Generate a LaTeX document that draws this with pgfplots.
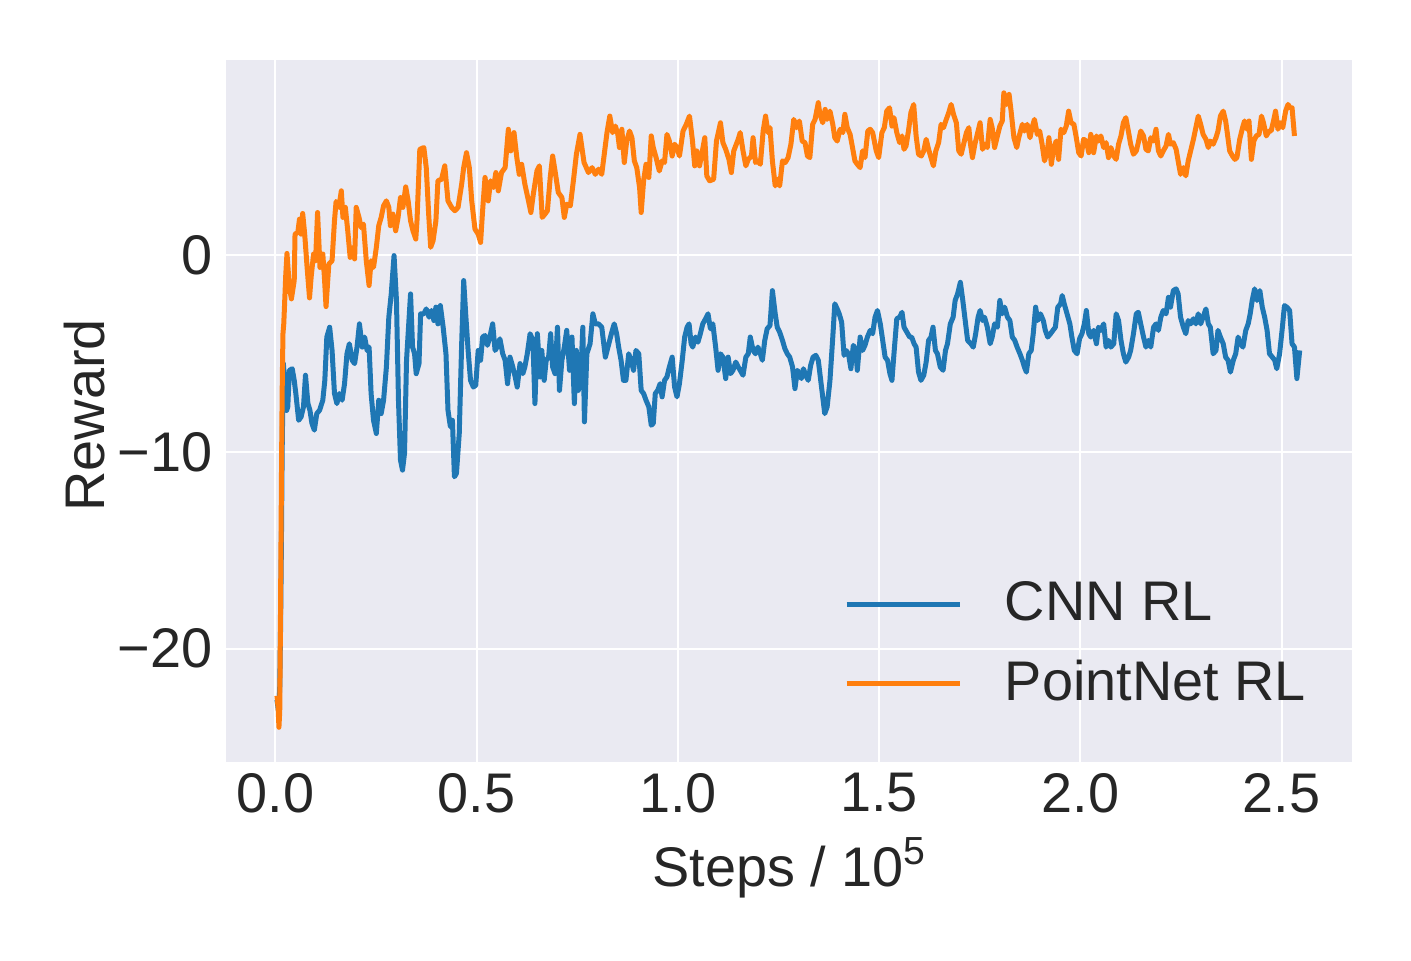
\documentclass[border=0pt]{standalone}
\usepackage{fontspec}
\setmainfont{Liberation Sans}
\usepackage{pgfplots}
\usepackage{pgfplotstable}
\pgfplotsset{compat=1.18}
\definecolor{bg}{HTML}{EAEAF2}
\definecolor{tabblue}{HTML}{1F77B4}
\definecolor{taborange}{HTML}{FF7F0E}
\definecolor{txt}{HTML}{262626}
\newcommand{\fsz}{\fontsize{13.4}{16}\selectfont}

\pgfplotstableread{
x y
0.004 -22.6
0.008 -23.2
0.011 -22.0
0.013 -19.0
0.015 -15.0
0.017 -10.0
0.019 -7.0
0.020 -5.52
0.024 -6.6
0.028 -7.9
0.031 -7.72
0.035 -5.86
0.042 -5.78
0.047 -6.37
0.051 -7.04
0.058 -8.40
0.064 -8.23
0.070 -7.72
0.075 -6.11
0.081 -7.55
0.086 -7.89
0.091 -8.56
0.097 -8.90
0.103 -8.06
0.110 -7.89
0.118 -7.38
0.123 -6.37
0.128 -4.17
0.135 -3.67
0.141 -4.85
0.147 -7.04
0.153 -7.55
0.159 -7.04
0.166 -7.38
0.172 -6.54
0.178 -5.02
0.184 -4.51
0.191 -5.35
0.197 -5.52
0.203 -4.68
0.209 -3.50
0.216 -4.68
0.222 -4.17
0.228 -4.85
0.233 -4.68
0.238 -7.04
0.244 -8.40
0.251 -9.07
0.257 -7.38
0.263 -8.06
0.269 -7.38
0.276 -5.69
0.282 -3.16
0.288 -1.98
0.295 -0.03
0.301 -2.31
0.306 -7.38
0.311 -10.42
0.316 -10.93
0.321 -10.08
0.326 -5.35
0.330 -4.00
0.336 -1.98
0.341 -4.68
0.346 -5.02
0.350 -6.03
0.357 -5.52
0.361 -2.99
0.369 -2.99
0.375 -2.74
0.382 -3.16
0.388 -2.82
0.394 -3.33
0.399 -2.65
0.404 -3.50
0.410 -2.57
0.417 -3.67
0.424 -5.02
0.429 -7.89
0.435 -8.73
0.440 -8.40
0.445 -11.27
0.450 -11.10
0.457 -9.07
0.463 -4.51
0.468 -1.30
0.473 -2.99
0.479 -4.85
0.485 -6.37
0.492 -6.71
0.498 -6.62
0.504 -4.85
0.510 -5.35
0.515 -4.17
0.521 -4.09
0.527 -4.59
0.533 -4.17
0.540 -3.50
0.546 -4.85
0.551 -4.68
0.558 -4.26
0.565 -5.02
0.571 -5.35
0.577 -6.54
0.583 -5.19
0.590 -5.69
0.596 -6.20
0.601 -6.71
0.608 -5.52
0.615 -6.03
0.620 -5.69
0.626 -5.02
0.633 -4.00
0.640 -4.34
0.645 -7.55
0.651 -4.00
0.658 -6.20
0.662 -4.85
0.668 -6.37
0.673 -5.35
0.679 -5.19
0.684 -4.00
0.689 -5.69
0.695 -6.03
0.701 -3.67
0.706 -6.88
0.712 -5.35
0.718 -4.68
0.724 -3.83
0.731 -5.86
0.737 -4.17
0.743 -7.55
0.748 -4.85
0.753 -6.88
0.759 -6.03
0.764 -3.67
0.768 -8.48
0.774 -5.02
0.782 -4.51
0.789 -2.99
0.795 -3.50
0.803 -3.50
0.811 -3.67
0.820 -5.19
0.836 -3.92
0.842 -3.50
0.848 -4.00
0.853 -4.68
0.859 -5.35
0.865 -6.37
0.871 -6.37
0.878 -5.02
0.884 -5.35
0.890 -5.86
0.896 -4.85
0.903 -5.02
0.909 -6.88
0.915 -7.04
0.921 -7.38
0.928 -7.72
0.934 -8.65
0.939 -8.56
0.944 -7.04
0.950 -6.88
0.956 -6.54
0.961 -7.21
0.967 -6.37
0.973 -6.20
0.979 -5.69
0.986 -5.19
0.992 -6.71
0.998 -7.21
1.004 -6.54
1.011 -5.35
1.017 -4.17
1.023 -3.67
1.028 -3.50
1.033 -4.51
1.037 -4.68
1.044 -4.17
1.050 -4.43
1.056 -4.00
1.062 -3.50
1.069 -3.24
1.075 -2.99
1.081 -3.75
1.087 -3.50
1.094 -4.68
1.100 -5.86
1.106 -5.02
1.112 -5.19
1.119 -6.28
1.125 -5.19
1.131 -6.03
1.137 -5.86
1.144 -5.44
1.150 -5.69
1.155 -5.86
1.162 -6.11
1.169 -5.19
1.175 -5.02
1.180 -4.17
1.187 -4.85
1.193 -5.02
1.199 -4.68
1.205 -5.02
1.210 -5.35
1.216 -4.34
1.222 -3.75
1.229 -3.58
1.235 -1.81
1.242 -2.99
1.247 -3.67
1.253 -3.92
1.260 -4.34
1.266 -4.76
1.272 -5.02
1.278 -5.19
1.285 -5.69
1.291 -6.79
1.297 -5.86
1.302 -6.03
1.307 -6.28
1.312 -5.78
1.318 -6.11
1.324 -6.37
1.330 -5.61
1.336 -5.19
1.343 -5.10
1.349 -5.35
1.355 -6.37
1.361 -7.38
1.365 -8.06
1.371 -7.72
1.378 -6.37
1.385 -4.17
1.390 -2.48
1.396 -2.74
1.401 -2.99
1.407 -3.41
1.413 -5.10
1.418 -4.85
1.424 -5.02
1.430 -5.78
1.436 -4.59
1.442 -4.85
1.446 -5.86
1.453 -4.17
1.459 -4.85
1.465 -4.59
1.471 -4.17
1.478 -3.83
1.484 -4.00
1.490 -3.16
1.496 -2.82
1.503 -3.50
1.509 -4.34
1.515 -5.19
1.521 -5.35
1.527 -6.03
1.532 -6.37
1.537 -5.02
1.544 -3.24
1.551 -3.16
1.557 -2.91
1.562 -3.67
1.569 -3.92
1.576 -4.17
1.581 -4.17
1.587 -4.51
1.592 -4.68
1.598 -5.95
1.604 -6.37
1.611 -6.11
1.617 -5.44
1.623 -4.34
1.629 -4.17
1.634 -3.67
1.640 -4.85
1.645 -5.02
1.652 -5.69
1.659 -5.86
1.665 -4.85
1.670 -4.51
1.677 -3.50
1.684 -3.16
1.689 -2.31
1.695 -1.98
1.702 -1.39
1.708 -2.31
1.714 -3.33
1.720 -4.34
1.728 -4.51
1.734 -4.68
1.740 -4.00
1.746 -3.16
1.751 -2.82
1.757 -3.33
1.762 -3.16
1.769 -3.67
1.776 -4.51
1.781 -4.17
1.787 -3.50
1.794 -3.67
1.800 -2.31
1.806 -2.99
1.812 -2.65
1.819 -3.16
1.825 -3.33
1.831 -4.17
1.837 -4.34
1.843 -4.68
1.850 -5.02
1.856 -5.35
1.861 -5.69
1.866 -5.95
1.872 -5.02
1.878 -4.85
1.883 -4.00
1.889 -2.65
1.894 -3.33
1.901 -2.99
1.908 -3.33
1.913 -3.83
1.919 -4.17
1.926 -4.00
1.932 -3.83
1.938 -3.67
1.944 -2.65
1.951 -2.48
1.955 -2.06
1.960 -2.48
1.967 -2.99
1.974 -3.50
1.979 -4.17
1.985 -4.85
1.992 -5.02
1.998 -4.26
2.004 -4.00
2.010 -3.50
2.015 -2.82
2.021 -4.00
2.026 -4.17
2.033 -3.83
2.040 -4.51
2.045 -3.67
2.051 -3.83
2.058 -3.50
2.064 -4.68
2.070 -4.34
2.076 -4.68
2.083 -4.51
2.089 -2.99
2.095 -3.33
2.101 -4.34
2.107 -5.02
2.113 -5.44
2.120 -5.19
2.125 -4.85
2.132 -4.00
2.139 -2.99
2.144 -2.91
2.150 -3.50
2.157 -4.17
2.163 -4.68
2.169 -4.34
2.175 -4.68
2.182 -3.67
2.188 -3.50
2.194 -3.83
2.200 -3.16
2.206 -2.82
2.213 -2.99
2.219 -2.15
2.224 -2.65
2.231 -1.81
2.238 -1.72
2.243 -1.98
2.249 -3.16
2.256 -3.67
2.262 -4.00
2.268 -3.33
2.274 -3.50
2.281 -3.24
2.287 -3.50
2.293 -2.99
2.299 -3.50
2.305 -3.16
2.312 -2.74
2.318 -3.50
2.323 -3.67
2.330 -5.02
2.337 -4.85
2.342 -3.83
2.348 -4.17
2.355 -4.51
2.361 -5.19
2.367 -5.35
2.373 -5.95
2.380 -5.35
2.386 -5.02
2.392 -4.17
2.398 -4.51
2.404 -4.68
2.411 -3.83
2.417 -3.50
2.422 -2.99
2.427 -2.31
2.433 -1.72
2.439 -2.31
2.446 -1.81
2.452 -2.65
2.458 -3.16
2.464 -3.83
2.470 -5.02
2.477 -5.19
2.483 -5.35
2.488 -5.78
2.495 -5.02
2.502 -3.67
2.507 -2.57
2.513 -2.65
2.520 -2.82
2.526 -4.51
2.532 -4.68
2.538 -6.28
2.545 -4.85
}\cnn

\pgfplotstableread{
x y
0.004 -22.4
0.007 -23.0
0.009 -24.0
0.011 -23.2
0.013 -18.0
0.015 -12.0
0.017 -7.0
0.019 -4.0
0.021 -3.5
0.0224 -2.82
0.026 -1.0
0.029 0.08
0.035 -1.64
0.040 -2.23
0.047 -1.30
0.049 1.06
0.056 1.15
0.060 1.82
0.064 1.06
0.068 2.11
0.073 1.06
0.079 -0.63
0.085 -2.18
0.089 -1.13
0.095 0.05
0.100 -0.29
0.105 2.16
0.111 -0.63
0.118 0.05
0.122 -1.13
0.126 -2.62
0.133 -0.46
0.141 -0.29
0.147 1.74
0.151 2.72
0.158 2.42
0.164 3.26
0.168 1.91
0.174 2.42
0.180 1.23
0.186 -0.12
0.193 0.39
0.197 -0.20
0.201 2.42
0.208 1.91
0.213 1.40
0.219 1.57
0.226 -0.29
0.233 -1.55
0.238 -0.29
0.244 -0.63
0.251 0.39
0.257 1.49
0.263 1.91
0.269 2.50
0.276 2.75
0.282 2.42
0.286 1.49
0.292 2.08
0.299 1.23
0.305 1.91
0.311 2.92
0.317 2.42
0.324 3.46
0.330 2.75
0.336 1.74
0.342 1.23
0.349 0.81
0.352 1.74
0.359 5.37
0.369 5.46
0.375 4.44
0.381 2.08
0.386 0.39
0.392 0.73
0.399 1.74
0.404 3.77
0.413 3.85
0.421 4.53
0.429 2.75
0.438 2.42
0.446 2.25
0.454 2.42
0.463 3.60
0.468 4.44
0.475 5.20
0.482 4.44
0.488 2.75
0.496 1.32
0.504 1.06
0.510 0.64
0.515 2.25
0.521 3.94
0.529 2.75
0.535 3.77
0.542 3.43
0.548 4.19
0.554 3.26
0.562 4.19
0.571 4.44
0.579 6.39
0.585 5.29
0.593 6.22
0.600 4.95
0.606 4.10
0.612 4.61
0.620 3.60
0.629 2.75
0.635 2.16
0.641 3.09
0.650 4.27
0.656 4.53
0.663 1.91
0.670 2.08
0.676 2.25
0.683 3.94
0.689 5.03
0.695 4.27
0.703 3.18
0.712 2.92
0.718 1.91
0.724 2.58
0.733 2.50
0.741 3.85
0.748 5.12
0.757 6.13
0.767 4.70
0.778 4.19
0.787 4.44
0.795 4.10
0.803 4.36
0.811 4.10
0.824 6.22
0.831 7.06
0.838 6.22
0.845 6.55
0.851 6.13
0.855 5.46
0.861 6.39
0.867 4.70
0.873 5.79
0.880 6.30
0.886 5.96
0.892 4.78
0.898 4.44
0.905 3.43
0.909 2.16
0.915 3.77
0.921 4.61
0.928 3.94
0.934 6.05
0.939 5.46
0.946 4.95
0.954 4.27
0.961 4.78
0.967 4.70
0.973 6.13
0.979 5.79
0.986 5.03
0.992 5.63
0.998 5.46
1.004 5.03
1.013 6.30
1.021 6.64
1.029 7.06
1.036 5.88
1.042 4.53
1.047 5.29
1.054 4.53
1.061 5.29
1.067 5.96
1.072 4.02
1.079 3.77
1.089 3.85
1.096 5.79
1.106 6.72
1.112 5.71
1.119 5.37
1.127 4.86
1.133 4.19
1.139 5.29
1.150 5.88
1.155 6.22
1.162 5.29
1.169 4.53
1.175 4.86
1.183 5.03
1.187 5.96
1.193 4.70
1.199 4.78
1.205 4.61
1.212 6.30
1.218 7.06
1.224 6.22
1.229 6.47
1.235 4.78
1.242 3.51
1.247 3.85
1.253 3.51
1.260 4.78
1.267 4.70
1.274 4.95
1.281 5.63
1.288 6.89
1.295 6.47
1.302 6.81
1.309 5.79
1.316 5.71
1.322 5.03
1.328 4.95
1.335 6.64
1.341 6.89
1.349 7.74
1.353 7.15
1.360 6.72
1.366 7.40
1.371 6.89
1.378 7.31
1.385 6.64
1.390 5.96
1.396 5.79
1.403 6.39
1.410 6.22
1.415 7.15
1.421 6.47
1.428 6.13
1.434 5.46
1.440 4.78
1.446 4.61
1.453 4.44
1.459 5.29
1.465 4.95
1.472 6.30
1.478 6.39
1.484 6.22
1.493 5.29
1.499 4.95
1.507 6.22
1.513 6.47
1.519 7.31
1.526 7.48
1.532 6.55
1.537 6.98
1.544 6.22
1.551 5.71
1.557 6.05
1.562 5.37
1.567 5.54
1.573 6.30
1.579 7.23
1.586 7.65
1.592 6.05
1.598 5.12
1.605 5.03
1.611 5.29
1.617 5.88
1.623 5.37
1.629 4.95
1.635 4.53
1.641 5.29
1.648 5.71
1.654 6.64
1.660 6.47
1.667 6.89
1.673 7.23
1.679 7.65
1.685 7.15
1.692 6.72
1.698 5.29
1.704 5.12
1.710 5.63
1.717 6.22
1.723 6.47
1.726 5.79
1.732 4.95
1.738 5.63
1.744 6.13
1.751 6.72
1.757 5.37
1.762 5.63
1.769 5.46
1.776 6.89
1.781 6.47
1.787 5.46
1.794 6.05
1.800 6.55
1.806 6.81
1.810 8.24
1.817 7.65
1.823 8.16
1.828 7.31
1.835 5.96
1.842 5.46
1.847 5.96
1.856 6.64
1.861 6.30
1.868 6.64
1.875 5.96
1.880 6.47
1.886 6.89
1.893 6.13
1.899 6.30
1.905 5.63
1.911 4.78
1.918 5.29
1.922 5.96
1.928 4.61
1.934 5.46
1.940 5.79
1.946 4.86
1.952 6.39
1.959 6.22
1.965 6.55
1.971 7.31
1.977 6.72
1.984 6.64
1.990 5.96
1.996 5.20
2.002 5.03
2.008 5.88
2.015 5.79
2.021 5.20
2.026 6.13
2.033 5.20
2.040 6.05
2.045 5.79
2.051 6.05
2.058 5.46
2.064 5.71
2.070 4.95
2.076 5.46
2.083 5.03
2.089 4.86
2.095 5.63
2.101 6.05
2.107 6.72
2.113 6.98
2.120 6.22
2.125 5.63
2.132 5.12
2.139 5.29
2.144 5.71
2.150 6.30
2.157 6.05
2.163 5.37
2.169 5.29
2.175 5.96
2.182 5.79
2.188 6.39
2.194 5.29
2.200 5.03
2.206 5.29
2.213 5.54
2.219 6.13
2.224 5.63
2.231 5.71
2.238 5.37
2.243 4.78
2.249 4.10
2.256 4.44
2.262 4.02
2.268 4.78
2.274 5.29
2.281 5.88
2.287 6.47
2.293 7.06
2.299 6.64
2.305 6.13
2.312 5.88
2.318 5.46
2.323 5.79
2.330 5.63
2.337 5.96
2.342 6.30
2.348 7.06
2.355 7.31
2.361 6.81
2.365 6.22
2.371 5.29
2.378 5.03
2.384 4.86
2.389 4.95
2.396 5.88
2.403 6.47
2.408 6.81
2.414 6.39
2.419 6.81
2.425 4.86
2.431 5.79
2.437 6.05
2.444 6.13
2.450 7.06
2.455 6.72
2.462 6.05
2.469 6.30
2.474 6.30
2.480 6.81
2.485 7.31
2.491 6.39
2.497 6.72
2.503 6.47
2.510 7.31
2.516 7.65
2.521 7.48
2.526 7.48
2.532 6.05
}\pointnet

\begin{document}
\begin{tikzpicture}
\useasboundingbox (-54.24pt,-47.59pt) rectangle (284.4pt,182.81pt);
\begin{axis}[
  at={(0,0)}, anchor=south west,
  scale only axis, width=270.24pt, height=168.41pt,
  xmin=-0.1225, xmax=2.675, ymin=-25.75, ymax=9.91,
  axis background/.style={fill=bg},
  axis line style={draw=none},
  grid=major, grid style={white, line width=0.5pt},
  major tick length=0pt,
  xtick={0,0.5,1,1.5,2,2.5}, xticklabels={0.0,0.5,1.0,1.5,2.0,2.5},
  ytick={-20,-10,0}, yticklabels={−20,−10,0},
  tick label style={font=\fsz, text=txt},
  xticklabel style={anchor=north, inner sep=0pt, yshift=-2.64pt},
  yticklabel style={anchor=east, inner sep=0pt, xshift=-3.05pt},
  xlabel={Steps / 10\raisebox{5.3pt}{\fontsize{9.4}{10}\selectfont 5}},
  ylabel={Reward},
  every axis x label/.style={at={(axis description cs:0.5,0)}, anchor=base, yshift=-30pt, font=\fsz, text=txt},
  every axis y label/.style={at={(axis description cs:0,0.5)}, xshift=-29.04pt, yshift=-1.1pt, rotate=90, anchor=base, font=\fsz, text=txt},
  legend style={draw=none, fill=none, at={(axis description cs:0.5489,0.2565)}, anchor=north west, inner sep=0pt, outer sep=0pt, row sep=7.95pt, font=\fsz, nodes={inner sep=0pt, text=txt}},
  legend image code/.code={\draw[#1] (0pt,0pt) -- (27.1pt,0pt); \path (37.4pt,0pt);},
  legend cell align=left,
]
\addplot[tabblue, line width=1.2pt, line join=round] table[x=x, y=y] {\cnn};
\addlegendentry{CNN RL}
\addplot[taborange, line width=1.2pt, line join=round] table[x=x, y=y] {\pointnet};
\addlegendentry{PointNet RL}
\end{axis}
\end{tikzpicture}
\end{document}
